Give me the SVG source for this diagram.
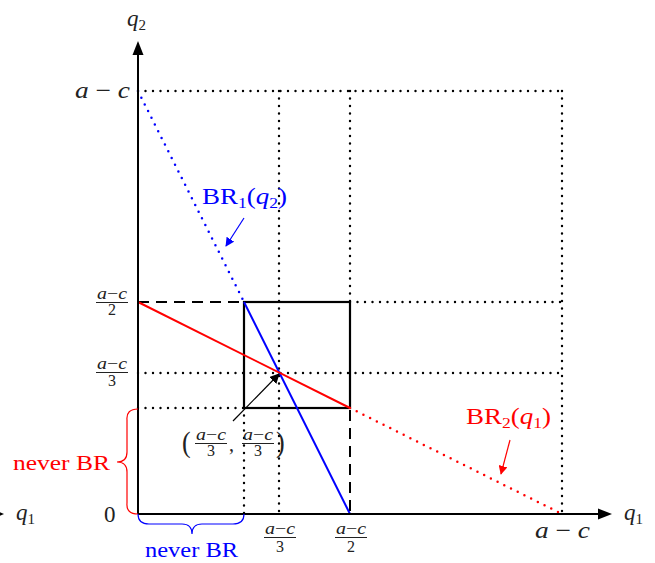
<svg xmlns="http://www.w3.org/2000/svg" width="655" height="563" viewBox="0 0 655 563">
<style>
text{font-family:"Liberation Serif","DejaVu Serif",serif;}
.it{font-style:italic;}
.axis{stroke:#000;stroke-width:2;fill:none;}
.dot{stroke:#000;stroke-width:2.4;stroke-dasharray:0 7.5;stroke-linecap:round;fill:none;}
.dash{stroke:#000;stroke-width:2;stroke-dasharray:11 7;fill:none;}
.solid{stroke:#000;stroke-width:2.2;fill:none;}
.blue{stroke:#0000ff;stroke-width:2;fill:none;}
.red{stroke:#ff0000;stroke-width:2;fill:none;}
.bdot{stroke:#0000ff;stroke-width:2.5;stroke-dasharray:0 7.5;stroke-linecap:round;fill:none;}
.rdot{stroke:#ff0000;stroke-width:2.5;stroke-dasharray:0 7.5;stroke-linecap:round;fill:none;}
.lbl{font-size:23px;fill:#222;}
.frac{font-size:16px;fill:#222;}
</style>
<defs>
<marker id="ah" viewBox="0 0 10 10" refX="9" refY="5" markerWidth="10" markerHeight="10" markerUnits="userSpaceOnUse" orient="auto"><path d="M0,0 L10,5 L0,10 z" fill="#000"/></marker>
<marker id="ahb" viewBox="0 0 10 10" refX="9" refY="5" markerWidth="9" markerHeight="9" markerUnits="userSpaceOnUse" orient="auto"><path d="M0,0 L10,5 L0,10 z" fill="#0000ff"/></marker>
<marker id="ahr" viewBox="0 0 10 10" refX="9" refY="5" markerWidth="9" markerHeight="9" markerUnits="userSpaceOnUse" orient="auto"><path d="M0,0 L10,5 L0,10 z" fill="#ff0000"/></marker>
</defs>

<g id="grid">
<line class="dot" x1="138" y1="91" x2="562" y2="91"/>
<line class="dot" x1="562" y1="91" x2="562" y2="514"/>
<line class="dot" x1="279" y1="91" x2="279" y2="514"/>
<line class="dot" x1="350" y1="91" x2="350" y2="302"/>
<line class="dot" x1="350" y1="302" x2="562" y2="302"/>
<line class="dot" x1="138" y1="373" x2="562" y2="373"/>
<line class="dot" x1="138" y1="408" x2="244" y2="408"/>
<line class="dot" x1="244" y1="408" x2="244" y2="514"/>
<line class="dash" x1="138" y1="302" x2="350" y2="302"/>
<line class="dash" x1="350" y1="302" x2="350" y2="514"/>
<rect class="solid" x="244" y="302" width="106" height="106"/>
</g>

<g id="connectors">
<line class="bdot" x1="138" y1="91" x2="244" y2="302"/>
<line class="blue" x1="244" y1="302" x2="350" y2="514"/>
<line class="red" x1="138" y1="302" x2="350" y2="408"/>
<line class="rdot" x1="350" y1="408" x2="562" y2="514"/>
<line stroke="#000" stroke-width="1.2" x1="233" y1="421" x2="279" y2="374" marker-end="url(#ah)"/>
<line stroke="#0000ff" stroke-width="1.2" x1="244" y1="218" x2="226" y2="246" marker-end="url(#ahb)"/>
<line stroke="#ff0000" stroke-width="1.2" x1="510" y1="440" x2="501" y2="474" marker-end="url(#ahr)"/>
</g>

<g id="axes">
<line class="axis" x1="138" y1="514" x2="602" y2="514"/>
<path d="M612,514 L598,508.5 L598,519.5 z" fill="#000"/>
<line class="axis" x1="138" y1="514" x2="138" y2="52"/>
<path d="M138,41 L132.5,55 L143.5,55 z" fill="#000"/>
<path d="M4,514 L-8,509 L-8,519 z" fill="#000"/>
<text class="lbl" x="127" y="26"><tspan class="it">q</tspan><tspan font-size="15" dy="4">2</tspan></text>
<text class="lbl" x="624" y="520"><tspan class="it">q</tspan><tspan font-size="15" dy="4">1</tspan></text>
<text class="lbl" x="16" y="520"><tspan class="it">q</tspan><tspan font-size="15" dy="4">1</tspan></text>
<text class="lbl" x="104" y="522">0</text>
<text class="lbl" x="75" y="98" textLength="55" lengthAdjust="spacingAndGlyphs"><tspan class="it">a</tspan> − <tspan class="it">c</tspan></text>
<text class="lbl" x="535" y="538" textLength="55" lengthAdjust="spacingAndGlyphs"><tspan class="it">a</tspan> − <tspan class="it">c</tspan></text>
</g>

<g id="frac-y-half">
<text class="frac" x="97" y="299" textLength="30" lengthAdjust="spacingAndGlyphs"><tspan class="it">a</tspan>−<tspan class="it">c</tspan></text>
<line x1="96" y1="302.5" x2="128" y2="302.5" stroke="#222" stroke-width="1"/>
<text class="frac" x="112" y="315" text-anchor="middle">2</text>
</g>
<g id="frac-y-third">
<text class="frac" x="97" y="369" textLength="30" lengthAdjust="spacingAndGlyphs"><tspan class="it">a</tspan>−<tspan class="it">c</tspan></text>
<line x1="96" y1="372.5" x2="128" y2="372.5" stroke="#222" stroke-width="1"/>
<text class="frac" x="112" y="386" text-anchor="middle">3</text>
</g>
<g id="frac-x-third">
<text class="frac" x="265" y="534" textLength="30" lengthAdjust="spacingAndGlyphs"><tspan class="it">a</tspan>−<tspan class="it">c</tspan></text>
<line x1="264" y1="537.5" x2="296" y2="537.5" stroke="#222" stroke-width="1"/>
<text class="frac" x="280" y="552" text-anchor="middle">3</text>
</g>
<g id="frac-x-half">
<text class="frac" x="336" y="534" textLength="30" lengthAdjust="spacingAndGlyphs"><tspan class="it">a</tspan>−<tspan class="it">c</tspan></text>
<line x1="335" y1="537.5" x2="367" y2="537.5" stroke="#222" stroke-width="1"/>
<text class="frac" x="351" y="552" text-anchor="middle">2</text>
</g>

<g id="nash-label">
<text x="182" y="451" font-size="26" fill="#222" transform="scale(1,1.1)" transform-origin="187 443">(</text>
<text class="frac" x="196" y="440" textLength="30" lengthAdjust="spacingAndGlyphs"><tspan class="it">a</tspan>−<tspan class="it">c</tspan></text>
<line x1="195" y1="443.5" x2="227" y2="443.5" stroke="#222" stroke-width="1"/>
<text class="frac" x="211" y="456" text-anchor="middle">3</text>
<text x="229" y="451" font-size="20" fill="#222">,</text>
<text class="frac" x="243" y="440" textLength="30" lengthAdjust="spacingAndGlyphs"><tspan class="it">a</tspan>−<tspan class="it">c</tspan></text>
<line x1="242" y1="443.5" x2="274" y2="443.5" stroke="#222" stroke-width="1"/>
<text class="frac" x="258" y="456" text-anchor="middle">3</text>
<text x="276" y="451" font-size="26" fill="#222" transform="scale(1,1.1)" transform-origin="280 443">)</text>
</g>

<g id="br1-label">
<text x="202" y="204" font-size="23" fill="#0000ff" textLength="85" lengthAdjust="spacingAndGlyphs">BR<tspan font-size="15" dy="4">1</tspan><tspan dy="-4">(</tspan><tspan class="it">q</tspan><tspan font-size="15" dy="4">2</tspan><tspan dy="-4">)</tspan></text>
</g>
<g id="br2-label">
<text x="466" y="424" font-size="23" fill="#ff0000" textLength="85" lengthAdjust="spacingAndGlyphs">BR<tspan font-size="15" dy="4">2</tspan><tspan dy="-4">(</tspan><tspan class="it">q</tspan><tspan font-size="15" dy="4">1</tspan><tspan dy="-4">)</tspan></text>
</g>

<g id="never-br-red">
<path d="M138,409 Q126,409 127,420 L127,452 Q127,462 117,462 Q127,462 127,472 L127,503 Q126,514 138,514" stroke="#ff0000" stroke-width="1.2" fill="none"/>
<text x="13" y="470" font-size="21" fill="#ff0000" textLength="97" lengthAdjust="spacingAndGlyphs">never BR</text>
</g>
<g id="never-br-blue">
<path d="M138,514 Q138,524 149,524 L182,524 Q192,524 192,534 Q192,524 202,524 L233,524 Q244,524 244,514" stroke="#0000ff" stroke-width="1.2" fill="none"/>
<text x="145" y="557" font-size="21" fill="#0000ff" textLength="93" lengthAdjust="spacingAndGlyphs">never BR</text>
</g>
</svg>
